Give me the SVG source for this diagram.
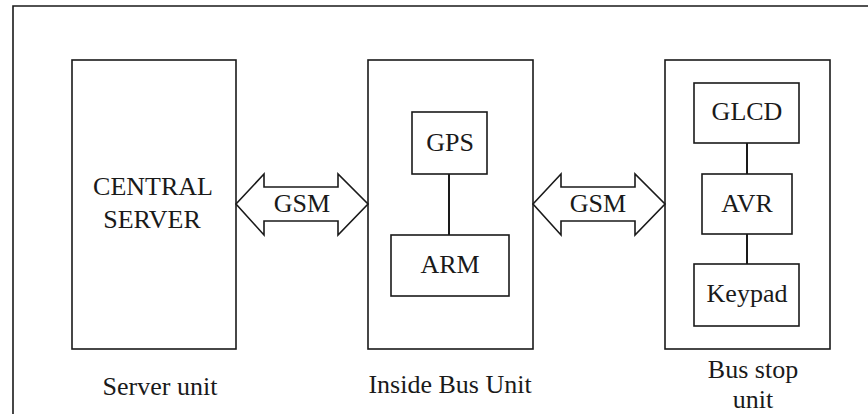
<svg xmlns="http://www.w3.org/2000/svg" width="868" height="414" viewBox="0 0 868 414">
  <style>
    .box { fill: #fff; stroke: #1a1a1a; stroke-width: 1.6; }
    .link { fill: none; stroke: #1a1a1a; stroke-width: 2; }
    .arrow { fill: #fff; stroke: #1a1a1a; stroke-width: 1.6; stroke-linejoin: miter; }
    .lbl { font-size: 26px; fill: #1a1a1a; text-anchor: middle; }
  </style>
  <rect width="868" height="414" fill="#fff"/>

  <!-- frame (open at right and bottom) -->
  <path d="M13,414 V6 H868" fill="none" stroke="#1a1a1a" stroke-width="1.6"/>

  <g font-family="Liberation Serif, Times New Roman, DejaVu Serif, serif">
  <!-- server unit -->
  <g id="server-unit">
    <rect class="box" x="72" y="60" width="164" height="289"/>
    <text class="lbl" x="153" y="195">CENTRAL</text>
    <text class="lbl" x="152" y="228">SERVER</text>
    <text class="lbl" x="160" y="395">Server unit</text>
  </g>

  <!-- inside bus unit -->
  <g id="bus-unit">
    <rect class="box" x="368" y="60" width="165" height="289"/>
    <text class="lbl" x="450" y="393">Inside Bus Unit</text>
  </g>
  <g id="gps">
    <rect class="box" x="412" y="112" width="75" height="62"/>
    <text class="lbl" x="450" y="151">GPS</text>
  </g>
  <g id="arm">
    <rect class="box" x="391" y="235" width="118" height="61"/>
    <text class="lbl" x="450" y="273">ARM</text>
  </g>

  <!-- bus stop unit -->
  <g id="bus-stop-unit">
    <rect class="box" x="665" y="60" width="165" height="289"/>
    <text class="lbl" x="753" y="378">Bus stop</text>
    <text class="lbl" x="753" y="408">unit</text>
  </g>
  <g id="glcd">
    <rect class="box" x="694" y="83" width="105" height="60"/>
    <text class="lbl" x="747" y="120">GLCD</text>
  </g>
  <g id="avr">
    <rect class="box" x="702" y="174" width="90" height="60"/>
    <text class="lbl" x="747" y="212">AVR</text>
  </g>
  <g id="keypad">
    <rect class="box" x="694" y="264" width="105" height="62"/>
    <text class="lbl" x="747" y="302">Keypad</text>
  </g>

  <!-- connectors -->
  <g id="connectors">
    <line class="link" x1="449" y1="174" x2="449" y2="235"/>
    <line class="link" x1="747" y1="143" x2="747" y2="174"/>
    <line class="link" x1="747" y1="234" x2="747" y2="264"/>
    <path class="arrow" d="M236,204 L264,174 V187 H338 V174 L368,204 L338,235 V221 H264 V235 Z"/>
    <text class="lbl" x="302" y="212">GSM</text>
    <path class="arrow" d="M533,204 L561,174 V187 H635 V174 L665,204 L635,235 V221 H561 V235 Z"/>
    <text class="lbl" x="598" y="212">GSM</text>
  </g>
  </g>
</svg>
